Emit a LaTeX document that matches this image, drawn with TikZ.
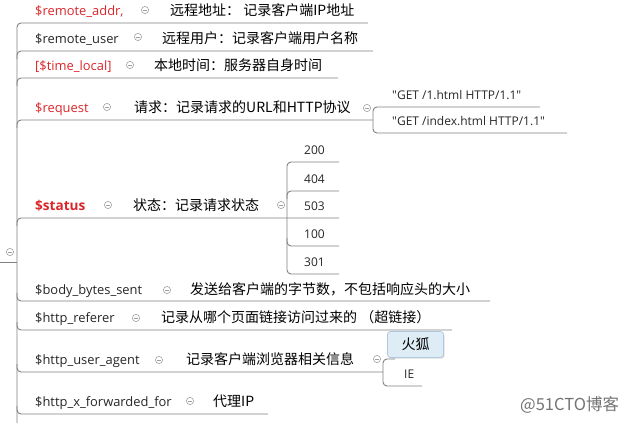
\documentclass[tikz,border=0pt]{standalone}
\usepackage{fontspec}
\setmainfont{Open Sans}
\newfontfamily\cjk{Noto Sans CJK SC}
\usetikzlibrary{shadows}
\definecolor{vred}{RGB}{218,38,42}
\definecolor{lngray}{RGB}{128,128,128}
\definecolor{btngray}{RGB}{160,160,160}
\definecolor{selfill}{RGB}{222,236,246}
\definecolor{seldraw}{RGB}{178,200,222}
\tikzset{
  var/.style={anchor=base west, inner sep=0pt, text=vred, font=\fontsize{12.9}{14}\selectfont},
  plain/.style={anchor=base west, inner sep=0pt, text=black!85, font=\fontsize{12.9}{14}\selectfont},
  zh/.style={anchor=base west, inner sep=0pt, text=black, font=\cjk\fontsize{14}{16}\selectfont},
  kid/.style={anchor=base west, inner sep=0pt, text=black!85, font=\fontsize{12}{14}\selectfont},
  br/.style={draw=lngray, line width=0.9pt, rounded corners=4pt},
  colbtn/.pic={\draw[btngray, line width=0.6pt] (0,0) circle (3.6pt); \draw[btngray, line width=0.6pt] (-2pt,0) -- (2pt,0);}
}
\begin{document}
\begin{tikzpicture}[x=1pt,y=-1pt]
\useasboundingbox (0,0) rectangle (629,423);
% root
\coordinate (root) at (0,262);
\coordinate (spine) at (17,262);
\draw[br] (root) -- (spine);
\pic at (10,252) {colbtn};
% spine and first branch
\draw[br] (368,23) -- (17,23) -- (17,423);
% rows
\draw[br] (17,59) -- (17,51) -- (373,51);
\draw[br] (17,86) -- (17,78) -- (338,78);
\draw[br] (17,128) -- (17,120) -- (373,120);
\draw[br] (17,226) -- (17,218) -- (339,218);
\draw[br] (17,293) -- (17,301) -- (490,301);
\draw[br] (17,322) -- (17,330) -- (452,330);
\draw[br] (17,364) -- (17,372) -- (383,372);
\draw[br] (17,406) -- (17,414) -- (268,414);

% row 1
\node[var] (v1) at (35,15) {\$remote\_addr,};
\pic at (145,10) {colbtn};
\node[zh] (d1) at (170,15.5) {远程地址： 记录客户端IP地址};
% row 2
\node[plain] (v2) at (35,43) {\$remote\_user};
\pic at (138,37) {colbtn};
\node[zh] (d2) at (162,43.5) {远程用户：记录客户端用户名称};
% row 3
\node[var] (v3) at (35,70) {[\$time\_local]};
\pic at (130,65) {colbtn};
\node[zh] (d3) at (154,70.5) {本地时间：服务器自身时间};
% row 4
\node[var] (v4) at (35,112) {\$request};
\pic at (107,107) {colbtn};
\node[zh] (d4) at (134,112.5) {请求：记录请求的URL和HTTP协议};
\pic at (367,108) {colbtn};
\draw[br] (540,107) -- (373,107) -- (373,133) -- (567,133);
\node[kid] (r1) at (392,99) {\textquotedbl GET /1.html HTTP/1.1\textquotedbl};
\node[kid] (r2) at (392,125) {\textquotedbl GET /index.html HTTP/1.1\textquotedbl};
% row 5
\node[var, font=\bfseries\fontsize{13.6}{15}\selectfont] (v5) at (35,210) {\$status};
\pic at (108,205) {colbtn};
\node[zh] (d5) at (133,210.5) {状态：记录请求状态};
\pic at (281,205) {colbtn};
\draw[br] (339,162) -- (287,162) -- (287,274) -- (339,274);
\draw[br] (287,199) -- (287,191) -- (339,191);
\draw[br] (287,238) -- (287,246) -- (339,246);
\node[kid] (s1) at (304,154) {200};
\node[kid] (s2) at (304,183) {404};
\node[kid] (s3) at (304,210) {503};
\node[kid] (s4) at (304,238) {100};
\node[kid] (s5) at (304,266) {301};
% row 6
\node[plain] (v6) at (35,294) {\$body\_bytes\_sent};
\pic at (167,290) {colbtn};
\node[zh] (d6) at (190,294.5) {发送给客户端的字节数，不包括响应头的大小};
% row 7
\node[plain] (v7) at (35,322) {\$http\_referer};
\pic at (136,318) {colbtn};
\node[zh] (d7) at (161,322.5) {记录从哪个页面链接访问过来的 （超链接）};
% row 8
\node[plain] (v8) at (35,364) {\$http\_user\_agent};
\pic at (159,360) {colbtn};
\node[zh] (d8) at (186,364.5) {记录客户端浏览器相关信息};
\pic at (377,359) {colbtn};
\draw[br] (395,359) -- (383,359) -- (383,386) -- (422,386);
\node[draw=seldraw, fill=selfill, rounded corners=3pt, line width=0.8pt,
      minimum width=56pt, minimum height=26pt, inner sep=0pt,
      drop shadow={opacity=0.25, shadow xshift=1pt, shadow yshift=-1.2pt},
      font=\cjk\fontsize{14}{16}\selectfont] (b1) at (415.5,344.5) {火狐};
\node[kid] (b2) at (404,378) {IE};
% row 9
\node[plain] (v9) at (35,406) {\$http\_x\_forwarded\_for};
\pic at (190,401) {colbtn};
\node[zh] (d9) at (213,406.5) {代理IP};
% watermark
\node[anchor=base west, inner sep=0pt, text=black!55, font=\cjk\fontsize{16.5}{18}\selectfont] (wm) at (520,410.5) {@51CTO博客};
\end{tikzpicture}
\end{document}
